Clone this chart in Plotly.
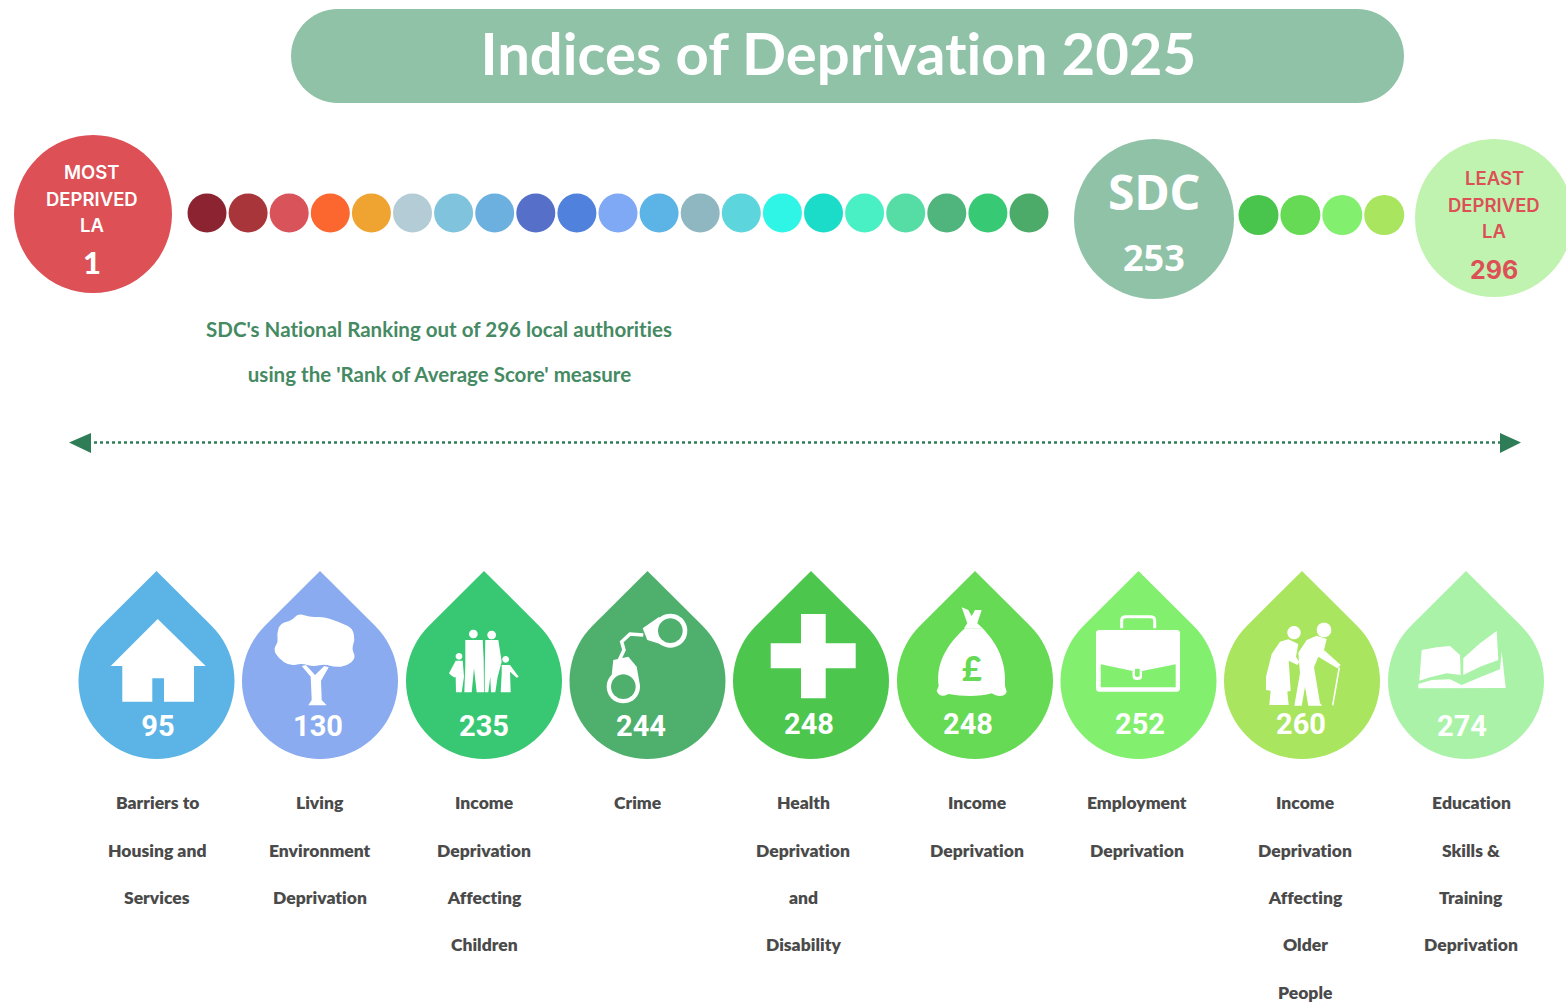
import math, re
import plotly.graph_objects as go

# ---------- data ----------
title_text = "Indices of Deprivation 2025"
scale_dot_colors = ["#8b2430","#a83539","#d9535a","#fb672f","#efa431","#b3ccd6","#7fc4dc","#6cb0e0",
                    "#5670c9","#5081dc","#7fa8f5","#5cb4e6","#8fb7c2","#5dd5dc","#2ff5e6","#1adcc8",
                    "#48f0c4","#56dda6","#4fb57c","#37c973","#4cab68"]
scale_dot2_colors = ["#49c44c","#66da55","#82f06e","#a9e55e"]
domain_ranks = [95, 130, 235, 244, 248, 248, 252, 260, 274]
domain_colors = ["#5cb4e6","#8aabef","#38c873","#4fb06e","#4cc64d","#66da55","#82f06e","#a9e55e","#aaf2a8"]
domain_labels = [["Barriers to","Housing and","Services"],
                 ["Living","Environment","Deprivation"],
                 ["Income","Deprivation","Affecting","Children"],
                 ["Crime"],
                 ["Health","Deprivation","and","Disability"],
                 ["Income","Deprivation"],
                 ["Employment","Deprivation"],
                 ["Income","Deprivation","Affecting","Older","People"],
                 ["Education","Skills &","Training","Deprivation"]]
sdc_rank = 253
most_rank = 1
least_rank = 296

# ---------- layout helpers ----------
DROP_X = [156.5, 320, 484, 647.5, 811, 975, 1138.5, 1302, 1466]
RANK_X = [158, 318, 484, 641, 809, 968, 1140, 1301, 1462]
RANK_Y = [729, 729, 729, 729, 727, 727, 727, 727, 729]
LABEL_X = [157, 320, 484, 637, 803, 977, 1137, 1305, 1471]
LINE_Y = [802.5, 850.5, 897.5, 944.5, 992.5]

shapes, annots = [], []
def add(path, fill="white", line=None, w=0, layer="above"):
    shapes.append(dict(type="path", path=path, fillcolor=fill, layer=layer,
                       line=dict(color=line or "rgba(0,0,0,0)", width=w)))

def zp(path, ox, oy=560):
    """zoom-crop coords (3x) -> page pixels"""
    toks = re.findall(r"[A-Za-z]|-?\d+\.?\d*", path)
    out, i = [], 0
    for t in toks:
        if t.isalpha():
            out.append(t)
        else:
            v = float(t) / 3 + (ox if i % 2 == 0 else oy)
            out.append(f"{v:.1f}")
            i += 1
    return " ".join(out)

def poly(pts, close=True):
    return "M " + " L ".join(f"{x} {y}" for x, y in pts) + (" Z" if close else "")

def blob(pts):
    n = len(pts)
    mid = lambda a, b: ((a[0]+b[0])/2, (a[1]+b[1])/2)
    s = mid(pts[-1], pts[0])
    d = f"M {s[0]} {s[1]}"
    for i in range(n):
        m = mid(pts[i], pts[(i+1) % n])
        d += f" Q {pts[i][0]} {pts[i][1]} {m[0]} {m[1]}"
    return d + " Z"

def circ(cx, cy, r, n=40):
    return poly([(round(cx + r*math.cos(2*math.pi*k/n), 1), round(cy + r*math.sin(2*math.pi*k/n), 1)) for k in range(n)])

def drop(cx, tip=571, cy=681, r=78):
    d = cy - tip
    a0 = math.asin(r / d)
    start = -a0
    pts = [(cx, tip)]
    steps = 60
    total = math.pi + 2*a0
    for k in range(steps + 1):
        t = start + total*k/steps
        pts.append((round(cx + r*math.cos(t), 2), round(cy + r*math.sin(t), 2)))
    return poly(pts)

# title pill
R = 47
pill = [(291+R+R*math.cos(math.pi/2+math.pi*k/30), 56+R*math.sin(math.pi/2+math.pi*k/30)) for k in range(31)]
pill += [(1404-R+R*math.cos(-math.pi/2+math.pi*k/30), 56+R*math.sin(-math.pi/2+math.pi*k/30)) for k in range(31)]
add(poly([(round(x,1), round(y,1)) for x, y in pill]), "#8fc2a7", layer="below")

# arrow
shapes.append(dict(type="line", x0=88, x1=1502, y0=442.5, y1=442.5, layer="below",
                   line=dict(color="#2e7d57", width=2.6, dash="dot")))
add(poly([(69,442.5),(91,433),(91,453)]), "#2e7d57")
add(poly([(1521,442.5),(1500,433),(1500,453)]), "#2e7d57")

# drops
for cx, col in zip(DROP_X, domain_colors):
    add(drop(cx), col, layer="below")

# ---------- icons ----------
c = domain_colors
# house
add(zp("M 293 177 L 437 318 L 402 318 L 402 425 L 312 425 L 312 355 L 277 355 L 277 425 L 187 425 L 187 318 L 152 318 Z", 60))
# tree
tree = [(650,225),(660,190),(695,182),(715,160),(750,172),(785,170),(815,178),(845,190),(878,205),(885,240),(875,265),(888,295),(860,318),(825,322),(795,312),(760,320),(725,310),(690,318),(655,295),(640,268),(655,245)]
add(zp(blob(tree), 60))
add(zp(poly([(752,350),(725,318),(738,315),(765,345),(793,318),(806,322),(783,362),(785,420),(800,436),(745,436),(755,420)]), 60))
# family
for cx, cy, r in [(1240,222,13),(1295,225,13),(1197,289,10),(1337,298,10)]:
    add(zp(circ(cx, cy, r), 60))
add(zp(poly([(1216,240),(1268,240),(1271,300),(1272,397),(1250,397),(1242,325),(1235,397),(1213,397),(1216,320)]), 60))
add(zp(poly([(1276,240),(1315,240),(1325,305),(1313,350),(1306,397),(1293,397),(1291,350),(1285,397),(1274,397),(1274,350)]), 60))
add(zp(poly([(1187,302),(1208,302),(1212,350),(1205,397),(1188,397),(1187,352),(1182,352),(1172,345),(1167,340)]), 60))
add(zp(poly([(1325,315),(1350,315),(1376,350),(1370,353),(1350,335),(1352,397),(1322,397),(1325,340)]), 60))
# handcuffs
add(zp(poly([(248,205),(298,170),(332,262),(262,240)]), 560))
add(zp(poly([(155,345),(160,300),(205,290),(230,320),(238,365)]), 560))
for cx, cy, ro, ri in [(331,212,51,37),(190,380,50,37)]:
    add(zp(circ(cx, cy, ro), 560))
    add(zp(circ(cx, cy, ri), 560), c[3])
add(zp("M 250 225 L 210 222 L 185 245 L 192 270 L 178 300", 560), "rgba(0,0,0,0)", "white", 3.5)
# cross
add(zp("M 723 162 L 797 162 L 797 250 L 887 250 L 887 325 L 797 325 L 797 415 L 723 415 L 723 325 L 632 325 L 632 250 L 723 250 Z", 560))
# money bag
add(zp(poly([(1205,142),(1225,150),(1235,168),(1245,150),(1265,150),(1252,190),(1268,205),(1212,205),(1222,190)]), 560))
add(zp("M 1215 205 L 1268 205 C 1300 240 1340 290 1335 378 L 1340 395 C 1335 412 1310 410 1295 400 C 1260 410 1210 410 1165 402 C 1150 412 1135 408 1130 392 L 1136 378 C 1125 300 1175 240 1215 205 Z", 560))
# briefcase
add(zp("M 215 205 L 215 180 Q 215 170 228 170 L 300 170 Q 314 170 314 180 L 314 205", 1050), "rgba(0,0,0,0)", "white", 3)
add(zp("M 148 210 L 380 210 Q 390 210 390 220 L 390 385 Q 390 395 380 395 L 148 395 Q 138 395 138 385 L 138 220 Q 138 210 148 210 Z", 1050))
add(zp(poly([(152,313),(248,333),(248,350),(276,350),(276,333),(377,313),(377,382),(152,382)]), 1050), c[6])
add(zp("M 248 326 Q 248 318 256 318 L 268 318 Q 276 318 276 326 L 276 350 Q 276 360 262 360 Q 248 360 248 350 Z", 1050))
add(zp("M 255 326 L 269 326 L 269 348 Q 262 354 255 348 Z", 1050), c[6])
# elderly couple
add(zp(circ(732,218,20), 1050))
add(zp(circ(822,210,22), 1050))
add(zp(poly([(715,238),(745,252),(738,290),(748,306),(742,315),(716,302),(722,392),(712,395),(716,435),(658,435),(662,392),(648,390),(648,350),(665,282),(690,245)]), 1050))
add(zp(poly([(800,227),(830,237),(822,270),(872,315),(862,325),(805,290),(792,322),(810,430),(817,437),(775,437),(765,380),(755,437),(733,437),(750,340),(745,278),(770,240)]), 1050))
add(zp("M 868 322 L 848 436", 1050), "rgba(0,0,0,0)", "white", 1.6)
# book
add(zp(poly([(1115,270),(1160,262),(1200,258),(1230,285),(1232,345),(1190,340),(1140,352),(1108,362)]), 1050))
add(zp(poly([(1240,295),(1290,250),(1340,213),(1345,300),(1290,320),(1240,345)]), 1050))
add(zp(poly([(1105,372),(1145,360),(1200,358),(1235,375),(1290,352),(1350,328),(1355,275),(1367,384),(1105,385)]), 1050))

# ---------- text ----------
def txt(x, y, s, size, color="white", family="Lato", weight=700, **kw):
    annots.append(dict(x=x, y=y, text=s, showarrow=False, xanchor="center", yanchor="middle",
                       font=dict(size=size, color=color, family=family, weight=weight), **kw))

txt(838, 52, title_text, 58)
txt(439, 329, "SDC's National Ranking out of 296 local authorities", 20.5, "#458a63")
txt(439, 374, "using the 'Rank of Average Score' measure", 20.5, "#458a63")
for y, s in zip([172, 199, 225], ["MOST", "DEPRIVED", "LA"]):
    txt(92, y, s, 18.5, "white", "Inter", 600)
txt(92, 262, str(most_rank), 31, "white", "Lato", 900)
txt(1154, 191, "SDC", 48, "white", "Noto Sans", 700)
txt(1154, 257, str(sdc_rank), 36, "white", "Noto Sans", 700)
for y, s in zip([178, 205, 231], ["LEAST", "DEPRIVED", "LA"]):
    txt(1494, y, s, 18.5, "#dc5056", "Inter", 600)
txt(1494, 270, str(least_rank), 25, "#dc5056", "Inter", 700)
for cx, lines in zip(LABEL_X, domain_labels):
    for y, s in zip(LINE_Y, lines):
        txt(cx, y, s, 17.5, "#4a4a4a", "Lato", 800)
txt(972, 667, "£", 34, c[5], "Lato", 900)

fig = go.Figure()
# big circles
fig.add_trace(go.Scatter(x=[93, 1154, 1494], y=[214, 219, 218], mode="markers",
                         marker=dict(size=[158, 160, 158], opacity=1, color=["#dc5056", "#8fc2a7", "#c1f3b0"], line=dict(width=0))))
# scale dots
fig.add_trace(go.Scatter(x=[207 + 41.1*i for i in range(len(scale_dot_colors))], y=[213]*len(scale_dot_colors),
                         mode="markers", marker=dict(size=39, opacity=1, color=scale_dot_colors, line=dict(width=0))))
fig.add_trace(go.Scatter(x=[1258.5 + 41.9*i for i in range(len(scale_dot2_colors))], y=[215]*len(scale_dot2_colors),
                         mode="markers", marker=dict(size=40, opacity=1, color=scale_dot2_colors, line=dict(width=0))))
# domain ranks
fig.add_trace(go.Scatter(x=RANK_X, y=RANK_Y, mode="text", text=[str(v) for v in domain_ranks],
                         textposition="middle center",
                         textfont=dict(size=29, color="white", family="Roboto", weight=700)))

fig.update_layout(width=1566, height=1005, margin=dict(l=0, r=0, t=0, b=0), autosize=False,
                  paper_bgcolor="white", plot_bgcolor="white", showlegend=False, hovermode=False,
                  shapes=shapes, annotations=annots,
                  xaxis=dict(range=[0, 1566], visible=False, fixedrange=True),
                  yaxis=dict(range=[1005, 0], visible=False, fixedrange=True))
fig.write_html("out.html", config=dict(displayModeBar=False),
               post_script="document.body.style.margin='0';document.body.style.overflow='hidden';"
                           "var s=document.createElement('style');"
                           "s.textContent='svg text{font-variant-ligatures:none!important;"
                           "font-feature-settings:\"liga\" 0,\"clig\" 0,\"dlig\" 0,\"calt\" 0!important;letter-spacing:0.01px}';"
                           "document.head.appendChild(s);")
